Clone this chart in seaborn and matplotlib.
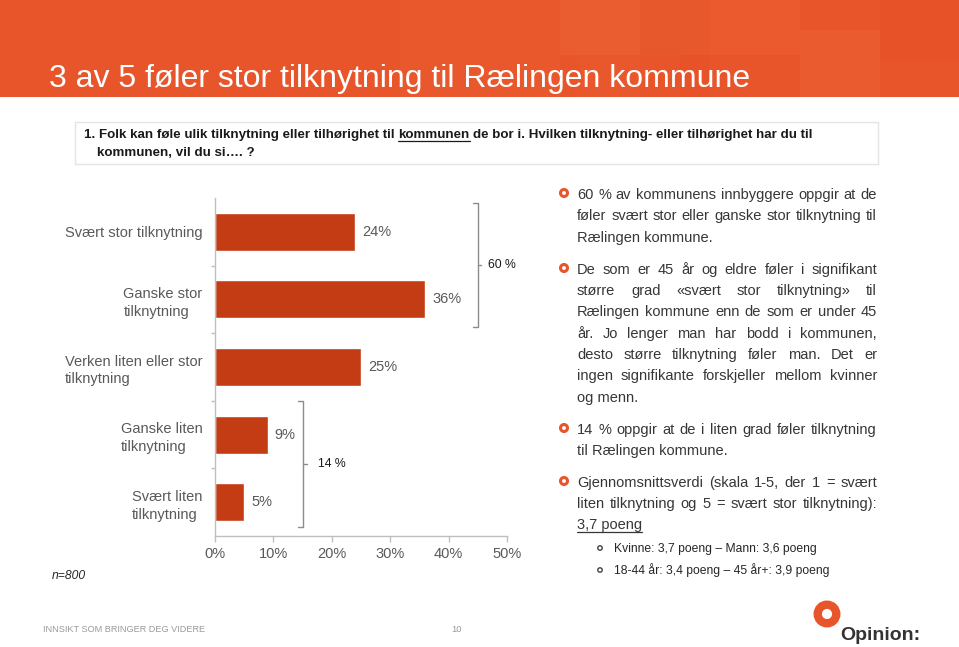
import numpy as np
import pandas as pd
import matplotlib
matplotlib.use("Agg")
import matplotlib.pyplot as plt
from matplotlib.patches import Rectangle, Circle
from matplotlib.ticker import FuncFormatter, FixedLocator
import seaborn as sns

# ---------------- data ----------------
categories = ["Svært stor tilknytning", "Ganske stor\ntilknytning",
              "Verken liten eller stor\ntilknytning", "Ganske liten\ntilknytning",
              "Svært liten\ntilknytning"]
values = [24, 36, 25, 9, 5]
x_ticks = [0, 10, 20, 30, 40, 50]
high_group = [0, 1]
low_group = [3, 4]

title = "3 av 5 føler stor tilknytning til Rælingen kommune"
question_pre = "1. Folk kan føle ulik tilknytning eller tilhørighet til"
question_ul = "kommunen"
question_post = "de bor i. Hvilken tilknytning- eller tilhørighet har du til"
question_line2 = "kommunen, vil du si…. ?"
bullets = [
    ["60 % av kommunens innbyggere oppgir at de",
     "føler svært stor eller ganske stor tilknytning til",
     "Rælingen kommune."],
    ["De som er 45 år og eldre føler i signifikant",
     "større grad «svært stor tilknytning» til",
     "Rælingen kommune enn de som er under 45",
     "år. Jo lenger man har bodd i kommunen,",
     "desto større tilknytning føler man. Det er",
     "ingen signifikante forskjeller mellom kvinner",
     "og menn."],
    ["14 % oppgir at de i liten grad føler tilknytning",
     "til Rælingen kommune."],
    ["Gjennomsnittsverdi (skala 1-5, der 1 = svært",
     "liten tilknytning og 5 = svært stor tilknytning):",
     "3,7 poeng"],
]
sub_bullets = ["Kvinne: 3,7 poeng – Mann: 3,6 poeng",
               "18-44 år: 3,4 poeng – 45 år+: 3,9 poeng"]
sample_note = "n=800"
footer_left = "INNSIKT SOM BRINGER DEG VIDERE"
page_no = "10"
logo_text = "Opinion:"

# ---------------- style ----------------
BAR = "#c33c14"
ORANGE = "#e9552b"
AXIS_C = "#bfbfbf"
LABEL_C = "#595959"
TEXT_C = "#363636"

sns.set_theme(style="white")
plt.rcParams['font.family'] = ['Liberation Sans', 'DejaVu Sans']

W, H = 959, 647
fig = plt.figure(figsize=(W / 100, H / 100), dpi=100)
fig.patch.set_facecolor("white")
bg = fig.add_axes([0, 0, 1, 1], zorder=0)
bg.set_xlim(0, W)
bg.set_ylim(H, 0)
bg.axis("off")

# banner
bg.add_patch(Rectangle((0, 0), W, 97, color=ORANGE, lw=0))
for (x0, y0, w, h, c, a) in [(400, 0, 160, 97, "#f0703f", 0.12),
                             (560, 0, 150, 55, "#f27a48", 0.22),
                             (640, 0, 70, 97, "#e2461d", 0.18),
                             (710, 0, 90, 55, "#ef6a3a", 0.25),
                             (800, 30, 80, 67, "#f07444", 0.2),
                             (880, 0, 79, 60, "#e44a20", 0.2),
                             (580, 55, 100, 42, "#ee6536", 0.18)]:
    bg.add_patch(Rectangle((x0, y0), w, h, color=c, alpha=a, lw=0))
bg.text(49, 87, title, color="white", fontsize=23, va="baseline", ha="left")

renderer = fig.canvas.get_renderer()


def text_width(s, **kw):
    t = bg.text(0, 0, s, **kw)
    w = t.get_window_extent(renderer).width
    t.remove()
    return w


# question box
bg.add_patch(Rectangle((75, 122), 803, 42, facecolor="white", edgecolor="#e4e4e4", lw=1))
qkw = dict(fontsize=9.6, fontweight="bold", color="#1a1a1a")
sp = text_width("a a", **qkw) - text_width("aa", **qkw)
QX = 84
bg.text(QX, 138, question_pre, va="baseline", **qkw)
x_ul = QX + text_width(question_pre, **qkw) + sp
bg.text(x_ul, 138, question_ul, va="baseline", **qkw)
w_ul = text_width(question_ul, **qkw)
bg.plot([x_ul, x_ul + w_ul], [140.5, 140.5], color="#1a1a1a", lw=0.9)
bg.text(x_ul + w_ul + sp, 138, question_post, va="baseline", **qkw)
bg.text(97, 156, question_line2, va="baseline", **qkw)

# ---------------- chart ----------------
ax = fig.add_axes([215 / W, (H - 536) / H, 292 / W, 338 / H], zorder=2)
ax.patch.set_alpha(0)
df = pd.DataFrame({"cat": categories, "val": values})
sns.barplot(data=df, x="val", y="cat", orient="h", color=BAR, width=0.56,
            saturation=1, ax=ax)
ax.set_xlim(0, 50)
ax.set_ylim(len(categories) - 0.5, -0.5)
ax.set_xlabel("")
ax.set_ylabel("")
for s in ["top", "right"]:
    ax.spines[s].set_visible(False)
for s in ["left", "bottom"]:
    ax.spines[s].set_color(AXIS_C)
    ax.spines[s].set_linewidth(1)
ax.xaxis.set_major_locator(FixedLocator(x_ticks))
ax.xaxis.set_major_formatter(FuncFormatter(lambda v, p: f"{int(v)}%"))
ax.tick_params(axis="x", length=4, color=AXIS_C, width=1, labelsize=10.5,
               labelcolor=LABEL_C, pad=4, bottom=True)
ax.tick_params(axis="y", which="major", length=0, pad=9, labelsize=10.5,
               labelcolor=LABEL_C)
ax.yaxis.set_minor_locator(FixedLocator(np.arange(0.5, len(categories) - 1, 1.0)))
ax.tick_params(axis="y", which="minor", length=3, color=AXIS_C, width=1, left=True)
for lbl in ax.get_yticklabels():
    lbl.set_multialignment("left")
    lbl.set_linespacing(1.35)
ax.bar_label(ax.containers[0], labels=[f"{v}%" for v in values], padding=5,
             fontsize=10.5, color=LABEL_C)


def bracket(idx, x, top, bottom, tx):
    total = sum(values[i] for i in idx)
    mid = (top + bottom) / 2
    kw = dict(color="#8c8c8c", lw=1, clip_on=False)
    ax.plot([x - 0.9, x, x, x - 0.9], [top, top, bottom, bottom], **kw)
    ax.plot([x, x + 0.6], [mid, mid], **kw)
    ax.text(tx, mid, f"{total} %", fontsize=8.8, color="#1a1a1a", va="center",
            ha="left", clip_on=False)


bracket(high_group, 45.0, -0.43, 1.41, 46.7)
bracket(low_group, 15.1, 2.51, 4.36, 17.6)

bg.text(52, 579, sample_note, fontsize=8.7, style="italic", color="#262626",
        va="baseline")

# ---------------- right-hand text ----------------
tkw = dict(fontsize=10.5, color=TEXT_C)
X0, X1 = 577, 877
line_y = [[194, 215, 237], [269, 290, 311, 333, 354, 375, 397], [429, 450],
          [482, 503, 524]]


def justify(line, y, last, kw, underline=False):
    words = line.split(" ")
    if last or len(words) == 1:
        bg.text(X0, y, line, va="baseline", **kw)
        if underline:
            w = text_width(line, **kw)
            bg.plot([X0, X0 + w], [y + 2.5, y + 2.5], color=kw["color"], lw=0.9)
        return
    ws = [text_width(w, **kw) for w in words]
    gap = (X1 - X0 - sum(ws)) / (len(words) - 1)
    x = X0
    for w, wd in zip(words, ws):
        bg.text(x, y, w, va="baseline", **kw)
        x += wd + gap


for bi, (para, ys) in enumerate(zip(bullets, line_y)):
    bg.add_patch(Circle((564, ys[0] - 1), 3.5, facecolor="white", edgecolor=ORANGE, lw=2.2))
    for li, (line, yc) in enumerate(zip(para, ys)):
        last = li == len(para) - 1
        justify(line, yc + 5, last, tkw, underline=(bi == 3 and last))

skw = dict(fontsize=8.7, color="#262626")
for s, yc in zip(sub_bullets, [548, 570]):
    bg.add_patch(Circle((600, yc), 2.2, facecolor="white", edgecolor="#404040", lw=1.0))
    bg.text(614, yc + 4, s, va="baseline", **skw)

# ---------------- footer ----------------
bg.text(43, 632, footer_left, fontsize=6.6, color="#9a9a9a", va="baseline")
bg.text(451, 632, page_no, fontsize=6.8, color="#9a9a9a", va="baseline")
bg.add_patch(Circle((827, 614), 9.3, facecolor="none", edgecolor=ORANGE, lw=6))
bg.text(840, 640, logo_text, fontsize=14, fontweight="bold", color="#333333",
        va="baseline")

fig.savefig("out.png", dpi=100)
